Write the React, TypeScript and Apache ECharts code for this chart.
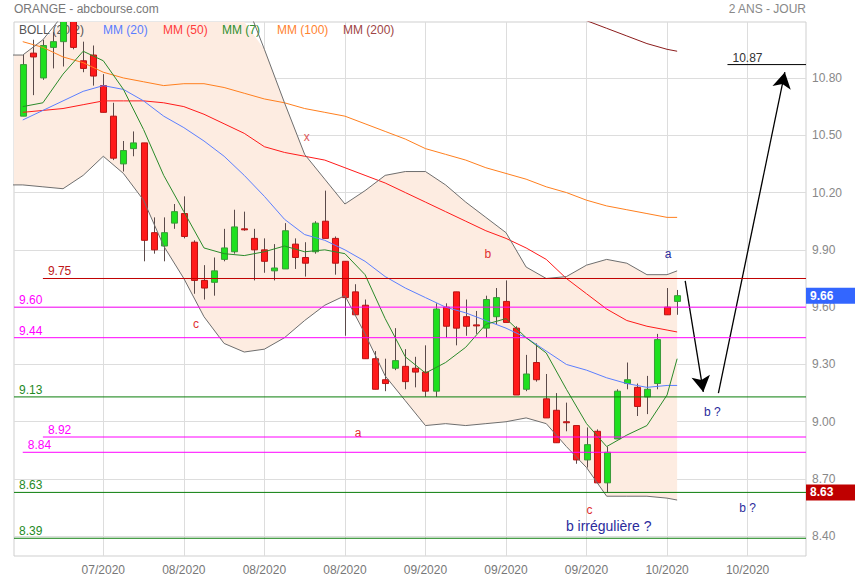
import React, { useEffect, useRef } from "react";
import * as echarts from "echarts";

// ---------- candles (trading-day index 0..65) ----------
const candleOpen = [10.60, 10.93, 10.80, 10.96, 10.99, 11.16, 10.89, 10.92, 10.76, 10.60,
  10.35, 10.43, 10.46, 9.99, 9.92, 10.04, 10.09, 9.94, 9.74, 9.73,
  9.85, 9.89, 10.01, 9.96, 9.90, 9.79, 9.80, 9.93, 9.86, 9.89,
  10.05, 9.96, 9.84, 9.68, 9.61, 9.33, 9.22, 9.28, 9.29, 9.28,
  9.26, 9.16, 9.60, 9.68, 9.55, 9.507, 9.49, 9.55, 9.63, 9.49,
  9.17, 9.31, 9.12, 9.06, 9.00, 8.98, 8.80, 8.95, 8.68, 8.91,
  9.20, 9.18, 9.13, 9.20, 9.60, 9.63];
const candleClose = [10.87, 10.91, 10.97, 10.99, 11.16, 10.96, 10.85, 10.81, 10.62, 10.38,
  10.42, 10.46, 9.95, 9.90, 9.99, 10.10, 9.97, 9.74, 9.70, 9.79,
  9.91, 10.02, 10.005, 9.90, 9.84, 9.805, 10.00, 9.86, 9.83, 10.04,
  9.96, 9.83, 9.65, 9.56, 9.33, 9.17, 9.20, 9.32, 9.21, 9.26,
  9.16, 9.59, 9.50, 9.49, 9.50, 9.502, 9.64, 9.65, 9.52, 9.14,
  9.25, 9.22, 9.02, 8.89, 8.998, 8.80, 8.88, 8.68, 8.84, 9.16,
  9.22, 9.08, 9.17, 9.43, 9.56, 9.66];
const candleLow = [10.60, 10.71, 10.79, 10.85, 10.86, 10.95, 10.83, 10.76, 10.62, 10.37,
  10.31, 10.39, 9.84, 9.88, 9.84, 10.01, 9.96, 9.67, 9.64, 9.66,
  9.84, 9.88, 10.00, 9.74, 9.78, 9.74, 9.80, 9.80, 9.76, 9.88,
  9.96, 9.77, 9.45, 9.56, 9.33, 9.17, 9.16, 9.27, 9.17, 9.18,
  9.13, 9.13, 9.44, 9.40, 9.45, 9.46, 9.44, 9.51, 9.52, 9.14,
  9.16, 9.21, 9.02, 8.89, 8.95, 8.78, 8.76, 8.68, 8.63, 8.91,
  9.17, 9.03, 9.04, 9.17, 9.56, 9.56];
const candleHigh = [10.92, 11.00, 11.00, 11.04, 11.18, 11.19, 10.99, 10.97, 10.82, 10.67,
  10.47, 10.52, 10.46, 10.07, 10.07, 10.14, 10.18, 9.95, 9.82, 9.86,
  10.01, 10.11, 10.10, 10.01, 9.96, 9.93, 10.04, 9.96, 9.94, 10.05,
  10.21, 9.97, 9.84, 9.72, 9.64, 9.37, 9.33, 9.49, 9.38, 9.34,
  9.40, 9.62, 9.62, 9.68, 9.64, 9.58, 9.66, 9.70, 9.74, 9.50,
  9.35, 9.41, 9.25, 9.15, 9.10, 8.98, 8.97, 8.96, 8.87, 9.17,
  9.31, 9.20, 9.24, 9.46, 9.70, 9.69];

// ---------- indicator lines (sampled at these day indexes) ----------
const lineIdx = [0, 2, 4, 6, 8, 10, 12, 14, 16, 18, 20, 22, 24, 26, 28, 30, 32, 34, 36, 38,
  40, 42, 44, 46, 48, 50, 52, 54, 56, 58, 60, 62, 64, 65];
const ma20 = [10.58, 10.63, 10.68, 10.73, 10.76, 10.74, 10.68, 10.60, 10.54, 10.47,
  10.39, 10.29, 10.18, 10.06, 9.98, 9.95, 9.90, 9.84, 9.76, 9.70,
  9.65, 9.60, 9.57, 9.53, 9.49, 9.44, 9.37, 9.30, 9.27, 9.23,
  9.20, 9.18, 9.19, 9.19];
const ma50 = [10.62, 10.63, 10.64, 10.66, 10.68, 10.68, 10.68, 10.67, 10.65, 10.61,
  10.56, 10.51, 10.44, 10.41, 10.39, 10.37, 10.33, 10.29, 10.25, 10.20,
  10.15, 10.10, 10.05, 10.00, 9.96, 9.91, 9.85, 9.75, 9.67, 9.59,
  9.53, 9.50, 9.48, 9.47];
const ma7 = [10.65, 10.67, 10.82, 10.94, 10.89, 10.74, 10.53, 10.29, 10.10, 9.91,
  9.88, 9.87, 9.89, 9.92, 9.89, 9.90, 9.88, 9.77, 9.54, 9.34,
  9.255, 9.31, 9.39, 9.51, 9.54, 9.44, 9.36, 9.17, 8.99, 8.87,
  8.93, 8.98, 9.14, 9.33];
const ma100 = [10.99, 10.96, 10.91, 10.88, 10.83, 10.80, 10.78, 10.76, 10.77, 10.77,
  10.75, 10.72, 10.69, 10.67, 10.64, 10.62, 10.60, 10.56, 10.52, 10.48,
  10.43, 10.40, 10.37, 10.33, 10.30, 10.27, 10.23, 10.20, 10.16, 10.13,
  10.11, 10.09, 10.07, 10.07];
const ma200Idx = [50, 52, 54, 56, 58, 60, 62, 64, 65];
const ma200 = [11.21, 11.17, 11.14, 11.10, 11.06, 11.02, 10.98, 10.95, 10.94];

const bandIdx = [-1, 0, 2, 4, 6, 8, 10, 12, 14, 16, 18, 20, 22, 24, 26, 28, 30, 32, 34, 36, 38,
  40, 42, 44, 46, 48, 50, 52, 54, 56, 58, 60, 62, 64, 65];
const bollUpper = [10.92, 10.92, 11.00, 11.13, 11.23, 11.30, 11.34, 11.36, 11.36, 11.35,
  11.33, 11.30, 11.22, 10.95, 10.67, 10.40, 10.27, 10.14, 10.21, 10.29,
  10.31, 10.31, 10.24, 10.15, 10.07, 9.99, 9.81, 9.75, 9.76, 9.82,
  9.85, 9.83, 9.77, 9.77, 9.79];
const bollLower = [10.24, 10.24, 10.23, 10.22, 10.29, 10.39, 10.30, 10.16, 9.92, 9.75,
  9.55, 9.41, 9.365, 9.38, 9.44, 9.53, 9.61, 9.66, 9.46, 9.24,
  9.11, 8.98, 8.99, 8.98, 8.99, 9.00, 9.02, 8.99, 8.87, 8.76,
  8.61, 8.61, 8.61, 8.60, 8.59];

// ---------- axes ----------
const xTickIdx = [8, 16, 24, 32, 40, 48, 56, 64, 72];
const xTickLabels = ["07/2020", "08/2020", "08/2020", "08/2020", "09/2020", "09/2020", "09/2020", "10/2020", "10/2020"];
const yTickValues = [8.4, 8.7, 9.0, 9.3, 9.6, 9.9, 10.2, 10.5, 10.8];

// ---------- drawn levels & annotations ----------
const levelValues = [9.75, 9.60, 9.44, 9.13, 8.92, 8.84, 8.63, 8.39, 10.87];
const levelLabels = ["9.75", "9.60", "9.44", "9.13", "8.92", "8.84", "8.63", "8.39", "10.87"];
const lastPrice = 9.66;
const supportPrice = 8.63;
const arrowFrom = [[65.8, 9.737], [69.1, 9.15]];
const arrowTo = [[67.6, 9.156], [75.7, 10.83]];
const annoText = ["x", "b", "c", "a", "c", "a", "b ?", "b ?", "b irrégulière ?"];
const annoIdx = [28.2, 46.2, 17.2, 33.3, 56.3, 64.1, 68.5, 72.0, 58.2];
const annoPrice = [10.49, 9.88, 9.51, 8.94, 8.54, 9.88, 9.05, 8.55, 8.454];

// ---------- layout / style ----------
const X_MIN = -0.87;
const X_MAX = 77.8;
const Y_MIN = 8.297;
const Y_MAX = 11.093;
const FONT = "Liberation Sans, Arial, Helvetica, sans-serif";
const levelStart = [2.0, X_MIN, X_MIN, X_MIN, 2.0, 0.0, X_MIN, X_MIN, 70.0];
const MAGENTA = "#ff00ff";
const GREEN_LVL = "#0a7d0a";
const levelColors = ["#c00000", MAGENTA, MAGENTA, GREEN_LVL, MAGENTA, MAGENTA, GREEN_LVL, GREEN_LVL, "#000000"];
const levelTextColors = ["#c01818", MAGENTA, MAGENTA, "#1f8a1f", MAGENTA, MAGENTA, "#1f8a1f", "#1f8a1f", "#333333"];
const annoColors = ["#e05a5a", "#e03030", "#e03030", "#e03030", "#e03030", "#2b2b9c", "#2b2b9c", "#2b2b9c", "#2b2b9c"];
const annoSizes = [12, 12, 12, 12, 12, 12, 12, 12, 14];

export default function App() {
  const ref = useRef<HTMLDivElement>(null);

  useEffect(() => {
    if (!ref.current) return;
    const chart = echarts.init(ref.current, undefined, { renderer: "svg" });

    const pairs = (xs: number[], ys: number[]) => xs.map((x, i) => [x, ys[i]]);
    const candleData = candleOpen.map((o, i) => [i, o, candleClose[i], candleLow[i], candleHigh[i]]);
    const clampY = (v: number) => Math.max(Y_MIN, Math.min(Y_MAX, v));
    const clampX = (v: number) => Math.max(X_MIN, Math.min(X_MAX, v));

    const lineSeries = (name: string, data: number[][], color: string, z = 4) => ({
      name,
      type: "line",
      data,
      showSymbol: false,
      symbol: "none",
      silent: true,
      z,
      color,
      lineStyle: { color, width: 1 },
    });

    const levelSeries = levelValues.map((v, i) =>
      lineSeries("level" + i, [[levelStart[i], v], [X_MAX, v]], levelColors[i], 5)
    );

    const levelLabelPoints: any[] = levelValues.map((v, i) => ({
      coord: [levelStart[i], v],
      symbolSize: 0,
      label: {
        show: true,
        position: "right",
        distance: 5,
        offset: [0, -7],
        formatter: levelLabels[i],
        color: levelTextColors[i],
        fontSize: 12,
        fontFamily: FONT,
      },
    }));

    const annoPoints: any[] = annoText.map((t, i) => ({
      coord: [annoIdx[i], annoPrice[i]],
      symbolSize: 0,
      label: {
        show: true,
        position: "inside",
        formatter: t,
        color: annoColors[i],
        fontSize: annoSizes[i],
        fontFamily: FONT,
      },
    }));
    const boxLabel = (bg: string) => ({
      show: true,
      position: "right",
      distance: 0,
      backgroundColor: bg,
      color: "#fff",
      fontWeight: "bold",
      fontSize: 12,
      fontFamily: FONT,
      padding: [2, 4],
      width: 41,
      lineHeight: 12,
      align: "left",
    });
    annoPoints.push({ coord: [X_MAX, lastPrice], symbolSize: 0, label: { ...boxLabel("#3366ff"), formatter: lastPrice.toFixed(2) } });
    annoPoints.push({ coord: [X_MAX, supportPrice], symbolSize: 0, label: { ...boxLabel("#bf0000"), formatter: supportPrice.toFixed(2) } });

    const legendItems = [
      { t: "BOLL (20,2)", x: 19, c: "#555" },
      { t: "MM (20)", x: 103, c: "#5a7dff" },
      { t: "MM (50)", x: 163, c: "#ff3b3b" },
      { t: "MM (7)", x: 222, c: "#2f8f2f" },
      { t: "MM (100)", x: 277, c: "#ff8330" },
      { t: "MM (200)", x: 343, c: "#a04545" },
    ];

    const option: any = {
      animation: false,
      backgroundColor: "#fff",
      textStyle: { fontFamily: FONT },
      grid: { left: 14, right: 49, top: 22, bottom: 24, show: true, borderColor: "#cfcfcf", borderWidth: 1 },
      xAxis: {
        type: "value",
        min: X_MIN,
        max: X_MAX,
        axisLine: { show: false },
        axisTick: { show: false, customValues: xTickIdx },
        axisLabel: {
          customValues: xTickIdx,
          formatter: (v: number) => xTickLabels[xTickIdx.indexOf(Math.round(v))] ?? "",
          color: "#777",
          fontSize: 12,
          margin: 8,
        },
        splitLine: { show: true, lineStyle: { color: "#dddddd", width: 1 } },
      },
      yAxis: {
        type: "value",
        position: "right",
        min: Y_MIN,
        max: Y_MAX,
        axisLine: { show: false },
        axisTick: { show: false, customValues: yTickValues },
        axisLabel: {
          customValues: yTickValues,
          formatter: (v: number) => v.toFixed(2),
          color: "#888",
          fontSize: 12,
          margin: 6,
        },
        splitLine: { show: true, lineStyle: { color: "#dddddd", width: 1 } },
      },
      graphic: [
        { type: "text", x: 14, y: 9, z: 10, style: { text: "ORANGE - abcbourse.com", fill: "#777", fontSize: 12, fontFamily: FONT, verticalAlign: "middle", align: "left" } },
        { type: "text", x: 806, y: 9, z: 10, style: { text: "2 ANS - JOUR", fill: "#888", fontSize: 12, fontFamily: FONT, verticalAlign: "middle", align: "right" } },
        ...legendItems.map((l) => ({
          type: "text",
          x: l.x,
          y: 30,
          z: 2,
          style: { text: l.t, fill: l.c, fontSize: 12, fontFamily: FONT, verticalAlign: "middle", align: "left" },
        })),
      ],
      series: [
        {
          name: "bollFill",
          type: "custom",
          z: 1,
          silent: true,
          clip: true,
          data: [[0, 9]],
          encode: { x: 0, y: 1 },
          renderItem: (params: any, api: any) => {
            const up = bandIdx.map((x, i) => api.coord([clampX(x), clampY(bollUpper[i])]));
            const lo = bandIdx.map((x, i) => api.coord([clampX(x), clampY(bollLower[i])])).reverse();
            return { type: "polygon", shape: { points: up.concat(lo) }, style: { fill: "#fdece1" } };
          },
        },
        {
          name: "candles",
          type: "custom",
          z: 3,
          silent: true,
          clip: true,
          data: candleData,
          encode: { x: 0, y: [1, 2, 3, 4] },
          renderItem: (params: any, api: any) => {
            const i = api.value(0);
            const o = api.value(1);
            const c = api.value(2);
            const l = api.value(3);
            const h = api.value(4);
            const pO = api.coord([i, o]);
            const pC = api.coord([i, c]);
            const pL = api.coord([i, l]);
            const pH = api.coord([i, h]);
            const w = api.size([1, 0])[0] * 0.6;
            const up = c >= o;
            const x = Math.round(pO[0]) + 0.5;
            const top = Math.min(pO[1], pC[1]);
            const hgt = Math.max(Math.abs(pO[1] - pC[1]), 1);
            return {
              type: "group",
              children: [
                { type: "line", shape: { x1: x, y1: pH[1], x2: x, y2: pL[1] }, style: { stroke: "#5a4a4a", lineWidth: 1 } },
                {
                  type: "rect",
                  shape: { x: x - w / 2, y: top, width: w, height: hgt },
                  style: { fill: up ? "#1ee01e" : "#ff1a1a", stroke: up ? "#3a9a3a" : "#b81414", lineWidth: 1 },
                },
              ],
            };
          },
        },
        lineSeries("MM100", pairs(lineIdx, ma100), "#ff7f1e"),
        lineSeries("MM200", pairs(ma200Idx, ma200), "#8b1c1c"),
        lineSeries("MM50", pairs(lineIdx, ma50), "#ff1a1a"),
        lineSeries("MM20", pairs(lineIdx, ma20), "#5b7fff"),
        lineSeries("MM7", pairs(lineIdx, ma7), "#2a8a2a"),
        lineSeries("BollUp", pairs(bandIdx, bollUpper), "#6e6e6e"),
        lineSeries("BollLow", pairs(bandIdx, bollLower), "#6e6e6e"),
        ...levelSeries,
        {
          name: "notes",
          type: "line",
          data: [[X_MIN, 9]],
          showSymbol: false,
          symbol: "none",
          silent: true,
          z: 6,
          lineStyle: { width: 0 },
          markPoint: {
            silent: true,
            symbol: "circle",
            symbolSize: 0,
            animation: false,
            data: [...levelLabelPoints, ...annoPoints],
          },
        },
        {
          name: "arrows",
          type: "line",
          data: [[X_MIN, 9]],
          showSymbol: false,
          symbol: "none",
          silent: true,
          z: 6,
          color: "#000",
          lineStyle: { width: 0 },
          markLine: {
            silent: true,
            symbol: ["none", "arrow"],
            symbolSize: [14, 16],
            animation: false,
            lineStyle: { color: "#000", width: 1.3, type: "solid" },
            label: { show: false },
            data: arrowFrom.map((f, i) => [{ coord: f }, { coord: arrowTo[i] }]),
          },
        },
      ],
    };

    chart.setOption(option);
    return () => chart.dispose();
  }, []);

  return <div ref={ref} style={{ position: "fixed", left: 0, top: 0, width: 855, height: 580 }} />;
}
